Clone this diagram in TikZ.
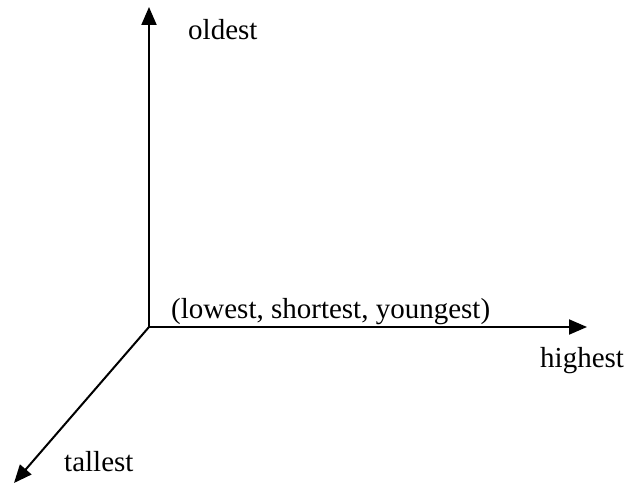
\documentclass[tikz,border=0pt]{standalone}
\usepackage{fontspec}
\setmainfont{Liberation Serif}
\usetikzlibrary{arrows.meta}
\begin{document}
\begin{tikzpicture}[x=1pt,y=-1pt,
  axis/.style={line width=2pt,-{Triangle[length=18pt,width=15pt]}},
  lbl/.style={inner sep=0pt,font=\fontsize{29}{34}\selectfont}]
\useasboundingbox (0,0) rectangle (629,486);
\coordinate (o) at (149,327);
\coordinate (up) at (149,7);
\coordinate (rt) at (587,327);
\coordinate (dl) at (14,483);
\draw[axis] (o) -- (up);
\draw[axis] (o) -- (rt);
\draw[axis] (o) -- (dl);
\node[lbl,anchor=base west] (old) at (188,40) {oldest};
\node[lbl,anchor=base west] (orig) at (171,319) {(lowest, shortest, youngest)};
\node[lbl,anchor=base west] (high) at (540,367) {highest};
\node[lbl,anchor=base west] (tall) at (64,471) {tallest};
\end{tikzpicture}
\end{document}
